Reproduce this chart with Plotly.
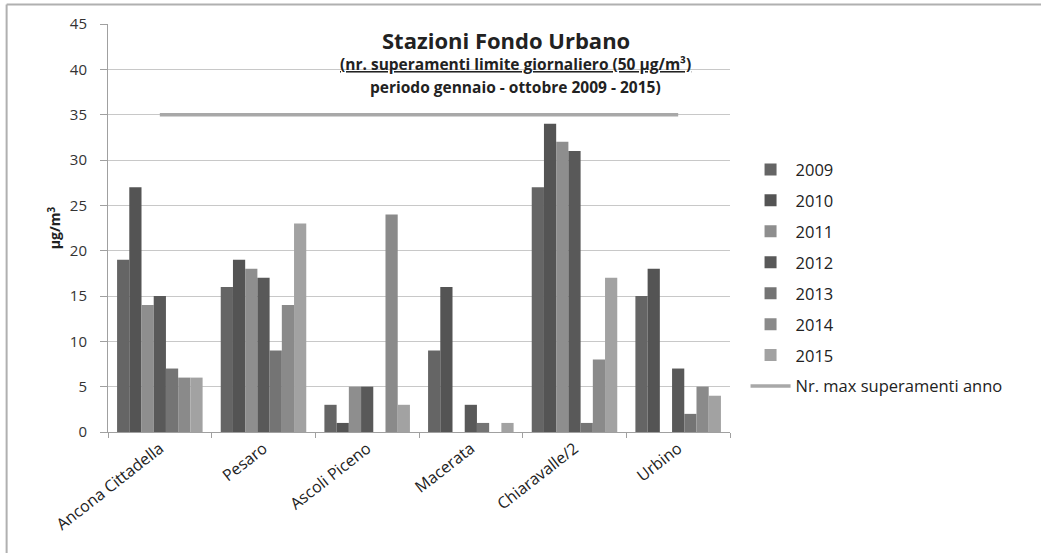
import plotly.graph_objects as go

stations = ["Ancona Cittadella", "Pesaro", "Ascoli Piceno", "Macerata", "Chiaravalle/2", "Urbino"]
years = ["2009", "2010", "2011", "2012", "2013", "2014", "2015"]
v2009 = [19, 16, 3, 9, 27, 15]
v2010 = [27, 19, 1, 16, 34, 18]
v2011 = [14, 18, 5, 0, 32, 0]
v2012 = [15, 17, 5, 3, 31, 7]
v2013 = [7, 9, 0, 1, 1, 2]
v2014 = [6, 14, 24, 0, 8, 5]
v2015 = [6, 23, 3, 1, 17, 4]
limit = [35, 35, 35, 35, 35, 35]
limit_name = "Nr. max superamenti anno"

series = [v2009, v2010, v2011, v2012, v2013, v2014, v2015]
colors = ["#656565", "#545454", "#8e8e8e", "#595959", "#747474", "#8a8a8a", "#a2a2a2"]

FONT = "Open Sans"
fig = go.Figure()
for i, (yr, vals) in enumerate(zip(years, series)):
    fig.add_trace(go.Bar(name=yr, x=stations, y=vals, marker=dict(color=colors[i], line=dict(width=0)),
                         legendgroup=yr))
fig.add_trace(go.Scatter(name=limit_name, x=stations, y=limit, mode="lines",
                         line=dict(color="#a8a8a8", width=3.5), legendgroup="lim"))

fig.update_layout(
    width=1046, height=553,
    paper_bgcolor="white", plot_bgcolor="white",
    margin=dict(l=108, r=316, t=24, b=121),
    barmode="group", bargap=0.175, bargroupgap=0,
    font=dict(family=FONT, color="#333333", size=14),
    showlegend=True,
    legend=dict(x=1.025, y=0.377, yanchor="middle", xanchor="left", traceorder="grouped",
                tracegroupgap=6.5, itemwidth=40, font=dict(size=16.5, color="#222222"),
                bgcolor="rgba(0,0,0,0)"),
    xaxis=dict(type="category", tickangle=-38, showgrid=False, showline=True, linecolor="#a0a0a0",
               ticks="outside", ticklen=5, tickcolor="#a0a0a0", tickson="boundaries",
               tickfont=dict(size=16, color="#222222"), zeroline=False),
    yaxis=dict(range=[0, 45], dtick=5, showgrid=True, gridcolor="#c8c8c8", gridwidth=1,
               showline=True, linecolor="#a0a0a0", ticks="outside", ticklen=7, tickcolor="#a0a0a0",
               ticklabelstandoff=10,
               tickfont=dict(size=15, color="#333333"), zeroline=False,
               title=dict(text="<b>μg/m<sup>3</sup></b>", font=dict(size=14, color="#222222"), standoff=5)),
    shapes=[
        dict(type="line", xref="paper", yref="paper", x0=-0.163, x1=1.5, y0=1.048, y1=1.048,
             line=dict(color="#b0b0b0", width=2)),
        dict(type="line", xref="paper", yref="paper", x0=-0.163, x1=-0.163, y0=1.048, y1=-0.3,
             line=dict(color="#b0b0b0", width=2)),
    ],
    annotations=[
        dict(text="<b>Stazioni Fondo Urbano</b>", xref="paper", yref="paper", x=0.64, y=0.96,
             xanchor="center", yanchor="middle", showarrow=False, font=dict(size=22, color="#222222")),
        dict(text="<b><u>(nr. superamenti limite giornaliero (50 μg/m³)</u></b>", xref="paper", yref="paper",
             x=0.655, y=0.902, xanchor="center", yanchor="middle", showarrow=False,
             font=dict(size=15.5, color="#222222")),
        dict(text="<b>periodo gennaio - ottobre 2009 - 2015)</b>", xref="paper", yref="paper",
             x=0.655, y=0.846, xanchor="center", yanchor="middle", showarrow=False,
             font=dict(size=15.5, color="#222222")),
    ],
)

fig.write_html("out.html")
